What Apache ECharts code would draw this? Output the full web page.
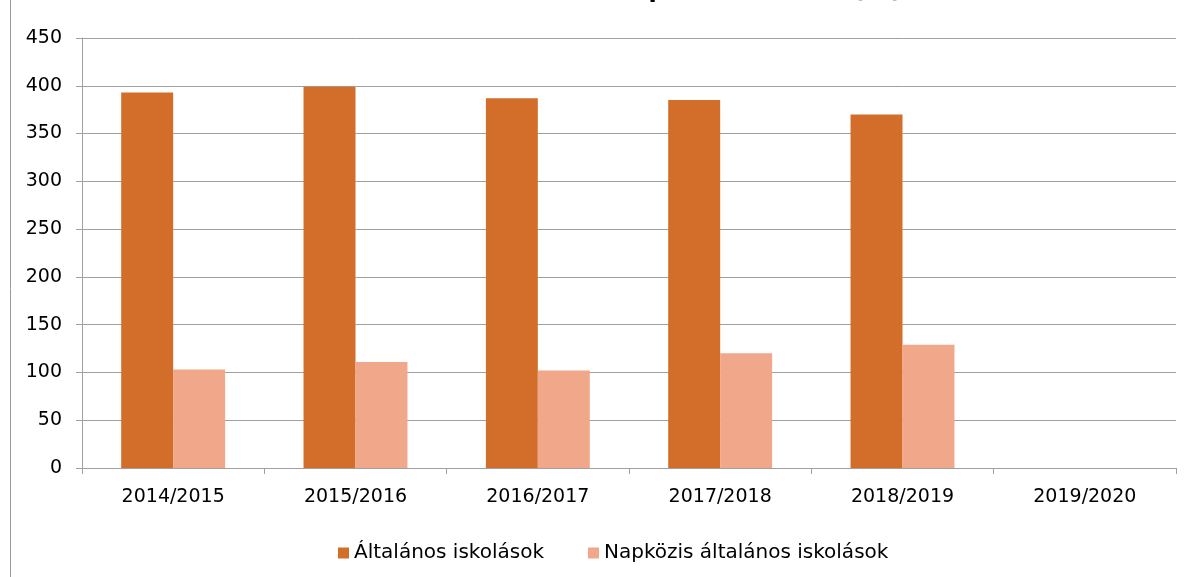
<!DOCTYPE html>
<html>
<head>
<meta charset="utf-8">
<script src="https://cdn.jsdelivr.net/npm/echarts@6/dist/echarts.min.js"></script>
<style>
html,body{margin:0;padding:0;background:#fff;}
#chart{width:1189px;height:577px;}
</style>
</head>
<body>
<div id="chart"></div>
<script>
const titleText = 'Általános iskolások és napközis tanulók (fő)';
const categories = ['2014/2015', '2015/2016', '2016/2017', '2017/2018', '2018/2019', '2019/2020'];
const seriesNames = ['Általános iskolások', 'Napközis általános iskolások'];
const generalStudents = [393, 399, 387, 385, 370, null];
const dayCareStudents = [103, 111, 102, 120, 129, null];
const yTicks = { min: 0, max: 450, interval: 50 };

const FONT = 'DejaVu Sans';
const chart = echarts.init(document.getElementById('chart'), null, { renderer: 'canvas' });
chart.setOption({
  animation: false,
  backgroundColor: '#ffffff',
  title: {
    text: titleText,
    right: 282,
    top: -26,
    textStyle: { fontFamily: FONT, fontSize: 24, fontWeight: 'bold', color: '#000000' }
  },
  graphic: [{
    type: 'line',
    shape: { x1: 10.5, y1: 0, x2: 10.5, y2: 577 },
    style: { stroke: '#9a9a9a', lineWidth: 1 }
  }],
  legend: {
    bottom: 9,
    left: 333,
    itemWidth: 11,
    itemHeight: 11,
    itemGap: 44,
    icon: 'rect',
    textStyle: { fontFamily: FONT, fontSize: 20, color: '#000000' },
    data: seriesNames
  },
  grid: { left: 82, right: 13, top: 38, bottom: 109, containLabel: false },
  xAxis: {
    type: 'category',
    data: categories,
    axisLine: { show: true, lineStyle: { color: '#a0a0a0', width: 1 } },
    axisTick: { show: true, length: 6, lineStyle: { color: '#a0a0a0' } },
    axisLabel: { fontFamily: FONT, fontSize: 19, color: '#000000', margin: 20 }
  },
  yAxis: {
    type: 'value',
    min: yTicks.min, max: yTicks.max, interval: yTicks.interval,
    axisLine: { show: true, lineStyle: { color: '#a0a0a0', width: 1 } },
    axisTick: { show: true, length: 6, lineStyle: { color: '#a0a0a0' } },
    axisLabel: { fontFamily: FONT, fontSize: 19, color: '#000000', margin: 20 },
    splitLine: { show: true, lineStyle: { color: '#a0a0a0', width: 1 } }
  },
  series: [
    {
      name: seriesNames[0], type: 'bar', data: generalStudents,
      barGap: '0%', barCategoryGap: '43%',
      itemStyle: { color: '#D36E2A' }
    },
    {
      name: seriesNames[1], type: 'bar', data: dayCareStudents,
      barGap: '0%', barCategoryGap: '43%',
      itemStyle: { color: '#F1A78A' }
    }
  ]
});
</script>
</body>
</html>
